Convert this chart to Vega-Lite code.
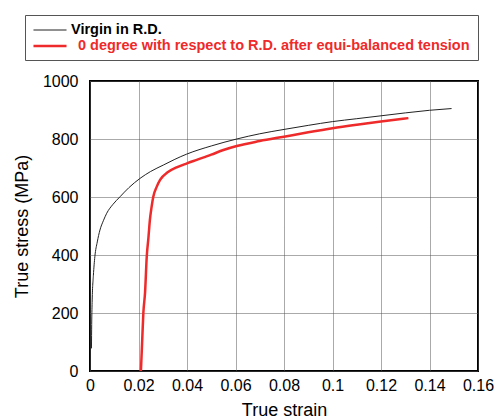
{
  "$schema": "https://vega.github.io/schema/vega-lite/v6.json",
  "autosize": {"type": "none"},
  "padding": {"left": 90, "top": 81, "right": 20, "bottom": 49},
  "width": 388,
  "height": 290,
  "background": "white",
  "config": {
    "view": {"stroke": "#000", "strokeWidth": 2},
    "font": "Liberation Sans",
    "axis": {
      "domain": false,
      "ticks": false,
      "grid": true,
      "gridColor": "#555",
      "gridDash": [1, 1],
      "gridWidth": 1,
      "labelFlush": false,
      "labelFont": "Liberation Sans",
      "labelFontSize": 16,
      "labelColor": "#000",
      "titleFont": "Liberation Sans",
      "titleFontSize": 18,
      "titleFontWeight": "normal",
      "titleColor": "#000"
    }
  },
  "data": {
    "values": [
      {"series": "Virgin in R.D.", "strain": 0.0006, "stress": 78},
      {"series": "Virgin in R.D.", "strain": 0.0007, "stress": 160},
      {"series": "Virgin in R.D.", "strain": 0.0009, "stress": 245},
      {"series": "Virgin in R.D.", "strain": 0.0014, "stress": 330},
      {"series": "Virgin in R.D.", "strain": 0.002, "stress": 394},
      {"series": "Virgin in R.D.", "strain": 0.003, "stress": 445},
      {"series": "Virgin in R.D.", "strain": 0.0041, "stress": 486},
      {"series": "Virgin in R.D.", "strain": 0.0055, "stress": 518},
      {"series": "Virgin in R.D.", "strain": 0.0069, "stress": 544},
      {"series": "Virgin in R.D.", "strain": 0.0095, "stress": 575},
      {"series": "Virgin in R.D.", "strain": 0.0124, "stress": 601},
      {"series": "Virgin in R.D.", "strain": 0.016, "stress": 632},
      {"series": "Virgin in R.D.", "strain": 0.0206, "stress": 664},
      {"series": "Virgin in R.D.", "strain": 0.025, "stress": 688},
      {"series": "Virgin in R.D.", "strain": 0.0302, "stress": 710},
      {"series": "Virgin in R.D.", "strain": 0.035, "stress": 730},
      {"series": "Virgin in R.D.", "strain": 0.0399, "stress": 748},
      {"series": "Virgin in R.D.", "strain": 0.05, "stress": 776},
      {"series": "Virgin in R.D.", "strain": 0.0605, "stress": 800},
      {"series": "Virgin in R.D.", "strain": 0.07, "stress": 818},
      {"series": "Virgin in R.D.", "strain": 0.08, "stress": 833},
      {"series": "Virgin in R.D.", "strain": 0.09, "stress": 847},
      {"series": "Virgin in R.D.", "strain": 0.1, "stress": 860},
      {"series": "Virgin in R.D.", "strain": 0.11, "stress": 870},
      {"series": "Virgin in R.D.", "strain": 0.12, "stress": 880},
      {"series": "Virgin in R.D.", "strain": 0.13, "stress": 890},
      {"series": "Virgin in R.D.", "strain": 0.14, "stress": 899},
      {"series": "Virgin in R.D.", "strain": 0.1491, "stress": 905},
      {"series": "0 degree with respect to R.D. after equi-balanced tension", "strain": 0.021, "stress": 0},
      {"series": "0 degree with respect to R.D. after equi-balanced tension", "strain": 0.0215, "stress": 100},
      {"series": "0 degree with respect to R.D. after equi-balanced tension", "strain": 0.022, "stress": 200},
      {"series": "0 degree with respect to R.D. after equi-balanced tension", "strain": 0.0227, "stress": 270},
      {"series": "0 degree with respect to R.D. after equi-balanced tension", "strain": 0.0234, "stress": 394},
      {"series": "0 degree with respect to R.D. after equi-balanced tension", "strain": 0.0241, "stress": 460},
      {"series": "0 degree with respect to R.D. after equi-balanced tension", "strain": 0.0247, "stress": 521},
      {"series": "0 degree with respect to R.D. after equi-balanced tension", "strain": 0.0254, "stress": 566},
      {"series": "0 degree with respect to R.D. after equi-balanced tension", "strain": 0.0261, "stress": 601},
      {"series": "0 degree with respect to R.D. after equi-balanced tension", "strain": 0.0275, "stress": 635},
      {"series": "0 degree with respect to R.D. after equi-balanced tension", "strain": 0.0289, "stress": 659},
      {"series": "0 degree with respect to R.D. after equi-balanced tension", "strain": 0.032, "stress": 685},
      {"series": "0 degree with respect to R.D. after equi-balanced tension", "strain": 0.0357, "stress": 702},
      {"series": "0 degree with respect to R.D. after equi-balanced tension", "strain": 0.04, "stress": 716},
      {"series": "0 degree with respect to R.D. after equi-balanced tension", "strain": 0.044, "stress": 728},
      {"series": "0 degree with respect to R.D. after equi-balanced tension", "strain": 0.05, "stress": 746},
      {"series": "0 degree with respect to R.D. after equi-balanced tension", "strain": 0.055, "stress": 762},
      {"series": "0 degree with respect to R.D. after equi-balanced tension", "strain": 0.0605, "stress": 776},
      {"series": "0 degree with respect to R.D. after equi-balanced tension", "strain": 0.07, "stress": 793},
      {"series": "0 degree with respect to R.D. after equi-balanced tension", "strain": 0.08, "stress": 808},
      {"series": "0 degree with respect to R.D. after equi-balanced tension", "strain": 0.09, "stress": 823},
      {"series": "0 degree with respect to R.D. after equi-balanced tension", "strain": 0.1, "stress": 837},
      {"series": "0 degree with respect to R.D. after equi-balanced tension", "strain": 0.11, "stress": 849},
      {"series": "0 degree with respect to R.D. after equi-balanced tension", "strain": 0.12, "stress": 860},
      {"series": "0 degree with respect to R.D. after equi-balanced tension", "strain": 0.1313, "stress": 872}
    ]
  },
  "mark": {"type": "line", "interpolate": "monotone", "clip": true},
  "encoding": {
    "x": {
      "field": "strain",
      "type": "quantitative",
      "scale": {"domain": [0, 0.16], "nice": false, "zero": false},
      "axis": {
        "title": "True strain",
        "values": [0, 0.02, 0.04, 0.06, 0.08, 0.1, 0.12, 0.14, 0.16],
        "format": "~g",
        "labelPadding": 6,
        "titlePadding": 8
      }
    },
    "y": {
      "field": "stress",
      "type": "quantitative",
      "scale": {"domain": [0, 1000], "nice": false},
      "axis": {
        "title": "True stress (MPa)",
        "values": [0, 200, 400, 600, 800, 1000],
        "format": "d",
        "labelPadding": 12,
        "titlePadding": 11
      }
    },
    "color": {
      "field": "series",
      "type": "nominal",
      "scale": {
        "domain": ["Virgin in R.D.", "0 degree with respect to R.D. after equi-balanced tension"],
        "range": ["#222222", "#ee2a2a"]
      },
      "legend": {
        "title": null,
        "orient": "none",
        "legendX": -65,
        "legendY": -66,
        "direction": "vertical",
        "strokeColor": "#555",
        "fillColor": "white",
        "padding": 7.5,
        "symbolType": "M-2.36,0H2.36",
        "symbolSize": 196,
        "symbolOffset": 9,
        "symbolStrokeWidth": 1.5,
        "labelFont": "Liberation Sans",
        "labelFontSize": 14.5,
        "labelFontWeight": "bold",
        "labelOffset": 12.5,
        "labelLimit": 500,
        "rowPadding": 1,
        "encode": {
          "labels": {"update": {
            "fill": {"signal": "datum.value === 'Virgin in R.D.' ? '#000' : '#ee2a2a'"},
            "dx": {"signal": "datum.value === 'Virgin in R.D.' ? 0 : 7"}
          }},
          "symbols": {"update": {"strokeWidth": {"signal": "datum.value === 'Virgin in R.D.' ? 1 : 2"}}}
        }
      }
    },
    "strokeWidth": {
      "field": "series",
      "type": "nominal",
      "scale": {
        "domain": ["Virgin in R.D.", "0 degree with respect to R.D. after equi-balanced tension"],
        "range": [1, 2.5]
      },
      "legend": null
    }
  }
}
